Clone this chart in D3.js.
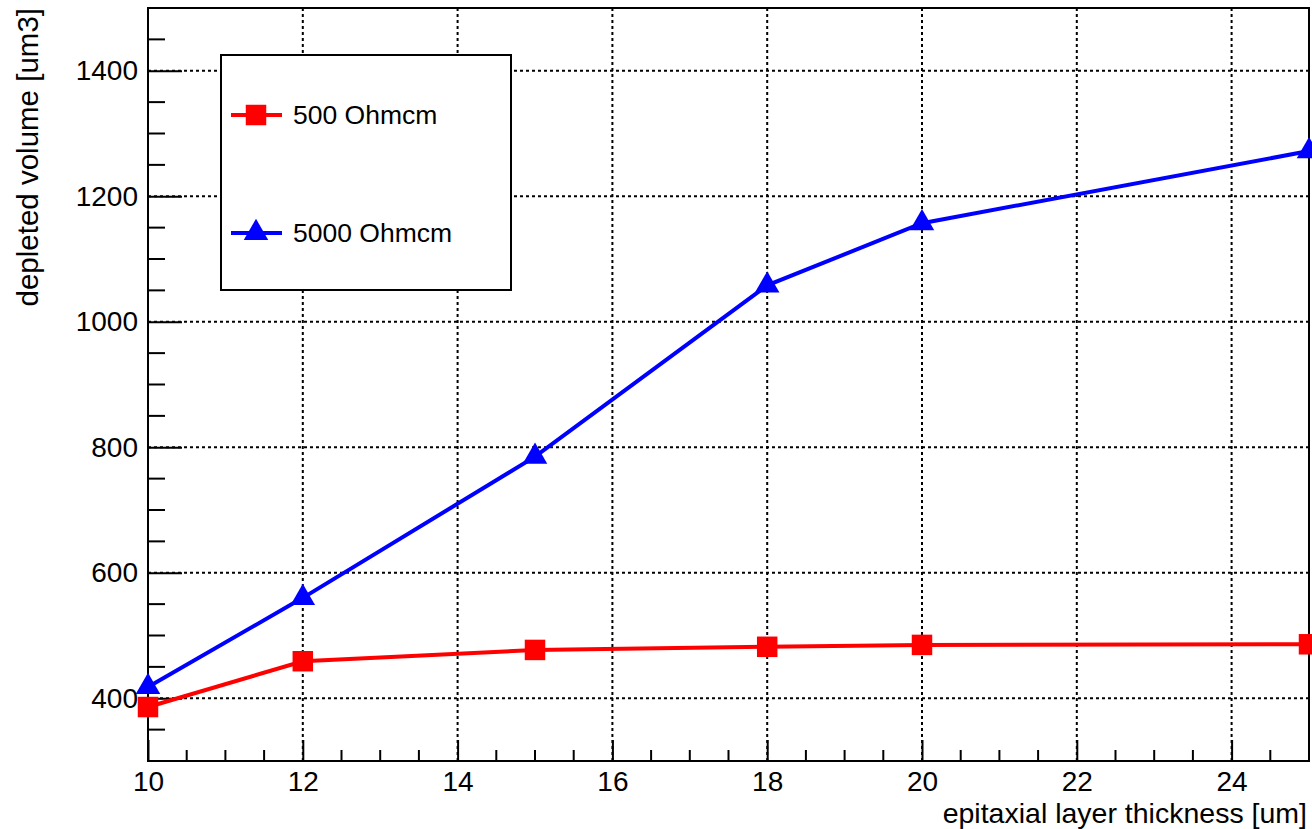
<!DOCTYPE html>
<html>
<head>
<meta charset="utf-8">
<script src="https://cdn.jsdelivr.net/npm/d3@7"></script>
<style>
  body { margin: 0; background: #fff; }
  svg { display: block; font-family: "Liberation Sans", Arial, sans-serif; }
</style>
</head>
<body>
<div id="chart"></div>
<script>
// thickness of the epitaxial layer [um]
const thickness = [10, 12, 15, 18, 20, 25];
// depleted volume [um3]
const vol500 = [386, 459, 477, 482, 485, 486];
const vol5000 = [418, 560, 785, 1058, 1157, 1272];
const seriesNames = ["500 Ohmcm", "5000 Ohmcm"];
const xTicks = [10, 12, 14, 16, 18, 20, 22, 24];
const yTicks = [400, 600, 800, 1000, 1200, 1400];

const width = 1312;
const height = 829;
const margin = {top: 8, right: 3, bottom: 68, left: 148};

const svg = d3.select('#chart')
  .append('svg')
  .attr('width', width)
  .attr('height', height);

const x = d3.scaleLinear().domain([10, 25]).range([margin.left, width - margin.right]);
const y = d3.scaleLinear().domain([300, 1500]).range([height - margin.bottom, margin.top]);

const x0 = x.range()[0], x1 = x.range()[1];
const y0 = y.range()[0], y1 = y.range()[1];

// dotted grid
const grid = svg.append('g')
  .attr('stroke', '#000')
  .attr('stroke-width', 2)
  .attr('stroke-dasharray', '3,3');
grid.selectAll('.gx')
  .data(xTicks.filter(d => d > 10))
  .join('line')
  .attr('x1', d => x(d)).attr('x2', d => x(d))
  .attr('y1', y0).attr('y2', y1);
grid.selectAll('.gy')
  .data(yTicks)
  .join('line')
  .attr('x1', x0).attr('x2', x1)
  .attr('y1', d => y(d)).attr('y2', d => y(d));

// axes with ROOT-like inside ticks
const xMinor = d3.range(10, 25.01, 0.5).filter(d => d % 2 !== 0);
const yMinor = d3.range(300, 1500.1, 50).filter(d => d % 200 !== 0);

const xAxis = svg.append('g').attr('transform', `translate(0,${y0})`);
xAxis.call(d3.axisBottom(x).tickValues(xTicks).tickSize(-21).tickPadding(10).tickFormat(d3.format('d')));
xAxis.append('g').selectAll('line')
  .data(xMinor)
  .join('line')
  .attr('x1', d => x(d)).attr('x2', d => x(d))
  .attr('y1', 0).attr('y2', -11)
  .attr('stroke', '#000').attr('stroke-width', 2);

const yAxis = svg.append('g').attr('transform', `translate(${x0},0)`);
yAxis.call(d3.axisLeft(y).tickValues(yTicks).tickSize(-34).tickPadding(10).tickFormat(d3.format('d')));
yAxis.append('g').selectAll('line')
  .data(yMinor)
  .join('line')
  .attr('x1', 0).attr('x2', 17)
  .attr('y1', d => y(d)).attr('y2', d => y(d))
  .attr('stroke', '#000').attr('stroke-width', 2);

svg.selectAll('.domain').remove();
svg.selectAll('.tick line').attr('stroke', '#000').attr('stroke-width', 2);
svg.selectAll('.tick text').attr('font-size', 28).attr('fill', '#000');
xAxis.selectAll('.tick text').attr('dy', '0.71em');

// frame
svg.append('rect')
  .attr('x', x0).attr('y', y1)
  .attr('width', x1 - x0).attr('height', y0 - y1)
  .attr('fill', 'none').attr('stroke', '#000').attr('stroke-width', 2);

// axis titles
svg.append('text')
  .attr('x', x1 - 2).attr('y', 823)
  .attr('text-anchor', 'end')
  .attr('font-size', 28.5)
  .text('epitaxial layer thickness [um]');

svg.append('text')
  .attr('transform', `translate(38,${y1}) rotate(-90)`)
  .attr('text-anchor', 'end')
  .attr('font-size', 29.5)
  .text('depleted volume [um3]');

// series
const series = [
  {name: seriesNames[0], values: vol500, color: '#ff0000', shape: d3.symbolSquare},
  {name: seriesNames[1], values: vol5000, color: '#0000ff', shape: d3.symbolTriangle}
];

const line = d3.line()
  .x(d => x(d[0]))
  .y(d => y(d[1]));

series.forEach(s => {
  const pts = thickness.map((t, i) => [t, s.values[i]]);
  svg.append('path')
    .datum(pts)
    .attr('d', line)
    .attr('fill', 'none')
    .attr('stroke', s.color)
    .attr('stroke-width', 4);
  svg.append('g').selectAll('path')
    .data(pts)
    .join('path')
    .attr('transform', d => `translate(${x(d[0])},${y(d[1])})`)
    .attr('d', d3.symbol().type(s.shape).size(s.shape === d3.symbolSquare ? 420 : 260))
    .attr('fill', s.color);
});

// legend
const legend = svg.append('g');
legend.append('rect')
  .attr('x', 221).attr('y', 55)
  .attr('width', 290).attr('height', 235)
  .attr('fill', '#fff').attr('stroke', '#000').attr('stroke-width', 2);

const legendY = [115, 233];
series.forEach((s, i) => {
  const g = legend.append('g').attr('transform', `translate(0,${legendY[i]})`);
  g.append('line')
    .attr('x1', 231).attr('x2', 282)
    .attr('stroke', s.color).attr('stroke-width', 4);
  g.append('path')
    .attr('transform', 'translate(256,0)')
    .attr('d', d3.symbol().type(s.shape).size(s.shape === d3.symbolSquare ? 420 : 260))
    .attr('fill', s.color);
  g.append('text')
    .attr('x', 293).attr('y', 0)
    .attr('dy', '0.35em')
    .attr('font-size', 26.5)
    .text(s.name);
});
</script>
</body>
</html>
